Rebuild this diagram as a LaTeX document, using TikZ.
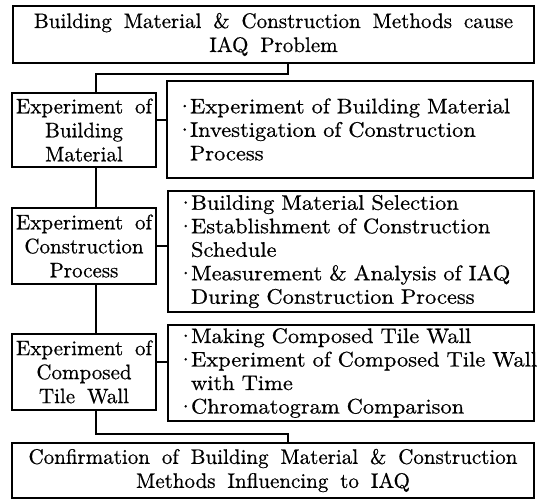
\documentclass[tikz,border=0pt]{standalone}
\usepackage{fontspec}
\setmainfont{lmroman10-regular.otf}[WordSpace=1.7, FakeBold=0.6]
% bullet and hanging indent for the item lists
\newcommand\bul{\makebox[11pt][l]{\hspace*{-3pt}\textperiodcentered}}
\newcommand\itm[1]{\mbox{\bul#1}}
\newcommand\cont[1]{\mbox{\hspace*{11pt}#1}}
\begin{document}
\begin{tikzpicture}[x=1pt,y=-1pt,
  box/.style={draw, line width=1.6pt, inner sep=0pt, align=center,
    font=\fontsize{21}{24}\selectfont},
  listbox/.style={box, align=left, inner xsep=12pt, text width=342pt,
    font=\fontsize{21}{23.5}\selectfont\addfontfeatures{FakeStretch=1.07}},
  conn/.style={line width=1.6pt}]
\useasboundingbox (0,0) rectangle (537,501);

\node[box, minimum width=521pt, minimum height=57pt] (top) at (273.5,34.5)
  {Building Material \& Construction Methods cause\\IAQ Problem};

\node[box, minimum width=144pt, minimum height=74pt] (left1) at (84,130)
  {Experiment of\\Building\\Material};
\node[listbox, minimum height=97pt] (right1) at (350,129.5)
  {\itm{Experiment of Building Material}\\
   \itm{Investigation of Construction}\\
   \cont{Process}};

\node[box, minimum width=144pt, minimum height=76pt] (left2) at (84,246)
  {Experiment of\\Construction\\Process};
\node[listbox, minimum height=121pt] (right2) at (351,251.5)
  {\itm{Building Material Selection}\\
   \itm{Establishment of Construction}\\
   \cont{Schedule}\\
   \itm{Measurement \& Analysis of IAQ}\\
   \cont{During Construction Process}};

\node[box, minimum width=144pt, minimum height=76pt] (left3) at (84,372)
  {Experiment of\\Composed\\Tile Wall};
\node[listbox, minimum height=96pt] (right3) at (351,373)
  {\itm{Making Composed Tile Wall}\\
   \itm{Experiment of Composed Tile Wall}\\
   \cont{with Time}\\
   \itm{Chromatogram Comparison}};

\node[box, minimum width=522pt, minimum height=55pt] (bottom) at (273,470.5)
  {Confirmation of Building Material \& Construction\\Methods Influencing to IAQ};

% connector guide lines
\coordinate (sx) at (96,0);
\coordinate (tx) at (288,0);
\coordinate (h1) at (0,120);
\coordinate (h2) at (0,246);
\coordinate (h3) at (0,362);

\draw[conn] (top.south -| tx) -- ++(0,10) -| (left1.north -| sx);
\draw[conn] (left1.south -| sx) -- (left2.north -| sx);
\draw[conn] (left2.south -| sx) -- (left3.north -| sx);
\draw[conn] (left3.south -| sx) -- ++(0,23) -| (bottom.north -| tx);

\draw[conn] (left1.east |- h1) -- (right1.west |- h1);
\draw[conn] (left2.east |- h2) -- (right2.west |- h2);
\draw[conn] (left3.east |- h3) -- (right3.west |- h3);
\end{tikzpicture}
\end{document}
